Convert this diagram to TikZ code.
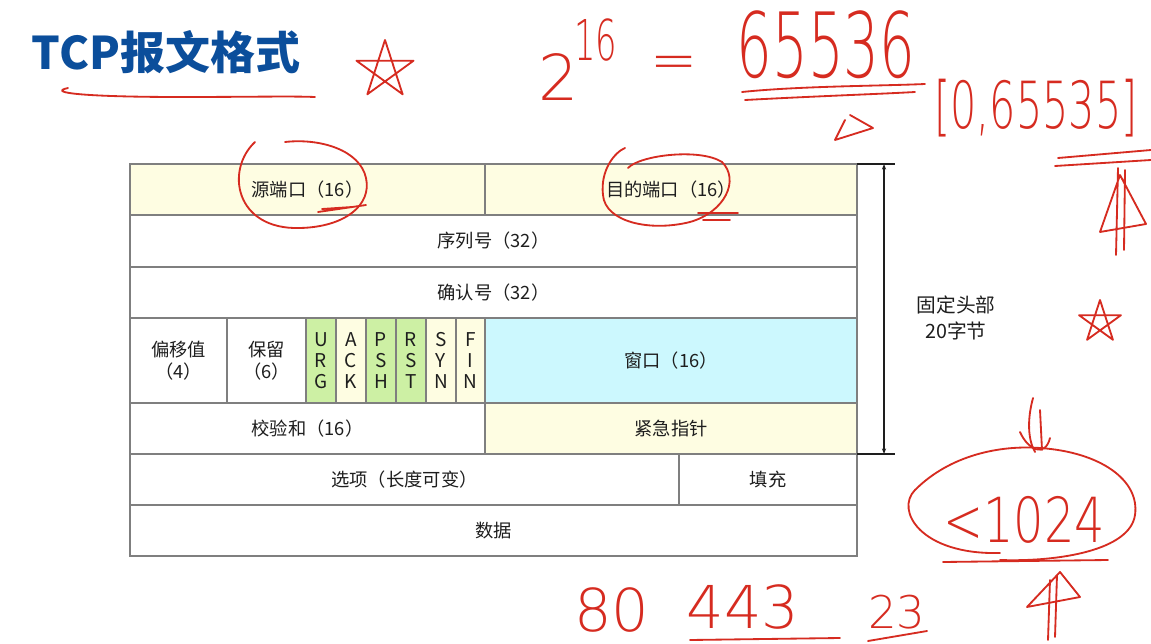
\documentclass[tikz,border=0pt]{standalone}
\usepackage{fontspec}
\usepackage{graphicx}
\setmainfont{Noto Sans CJK SC}
\newfontfamily\handfont{DejaVuSans-ExtraLight.ttf}
\usetikzlibrary{arrows.meta}
\definecolor{hdrblue}{HTML}{0B4E9B}
\definecolor{fldyellow}{HTML}{FEFDE2}
\definecolor{flggreen}{HTML}{CDF0A4}
\definecolor{wincyan}{HTML}{CCF8FE}
\definecolor{inkred}{HTML}{D62B20}
\definecolor{cellline}{HTML}{7F7F7F}
\definecolor{txt}{HTML}{1E1E1E}

\begin{document}
\begin{tikzpicture}[x=0.025cm,y=-0.025cm,
	cell/.style={draw=cellline, line width=1pt},
	lbl/.style={text=txt, font=\fontsize{13}{16}\selectfont, align=center, inner sep=0pt},
	flag/.style={text=txt, font=\fontsize{13.5}{15}\selectfont, align=center, inner sep=0pt},
	brace/.style={draw=txt, line width=0.8pt},
	ink/.style={draw=inkred, line width=1.3pt, line cap=round, line join=round},
	hand/.style={text=inkred, inner sep=0pt, font=\handfont\fontsize{#1}{#1}\selectfont}]
	\useasboundingbox[fill=white] (0,0) rectangle (1151,644);
	\node[font=\fontsize{32}{32}\selectfont\bfseries, text=hdrblue, inner sep=0pt] (title) at (166,52) {TCP报文格式};
	% header fields
	\draw[cell, fill=fldyellow] (130,164) rectangle node[lbl] (srcport) {源端口（16）} (485,215);
	\draw[cell, fill=fldyellow] (485,164) rectangle node[lbl] (dstport) {目的端口（16）} (857,215);
	\draw[cell, fill=white] (130,215) rectangle node[lbl] (seqnum) {序列号（32）} (857,267);
	\draw[cell, fill=white] (130,267) rectangle node[lbl] (acknum) {确认号（32）} (857,318);
	\draw[cell, fill=white] (130,318) rectangle node[lbl] (offset) {偏移值\\（4）} (227,403);
	\draw[cell, fill=white] (227,318) rectangle node[lbl] (rsvd) {保留\\（6）} (306,403);
	\foreach \xa/\xb/\lab/\nm/\col in {306/336/U\\R\\G/urg/flggreen, 336/366/A\\C\\K/ack/fldyellow,
		366/396/P\\S\\H/psh/flggreen, 396/426/R\\S\\T/rst/flggreen,
		426/456/S\\Y\\N/syn/fldyellow, 456/485/F\\I\\N/fin/fldyellow}
		\draw[cell, fill=\col] (\xa,318) rectangle node[flag] (\nm) {\lab} (\xb,403);
	\draw[cell, fill=wincyan] (485,318) rectangle node[lbl] (window) {窗口（16）} (857,403);
	\draw[cell, fill=white] (130,403) rectangle node[lbl] (chksum) {校验和（16）} (485,454);
	\draw[cell, fill=fldyellow] (485,403) rectangle node[lbl] (urgptr) {紧急指针} (857,454);
	\draw[cell, fill=white] (130,454) rectangle node[lbl] (options) {选项（长度可变）} (679,505);
	\draw[cell, fill=white] (679,454) rectangle node[lbl] (padding) {填充} (857,505);
	\draw[cell, fill=white] (130,505) rectangle node[lbl] (payload) {数据} (857,556);
	% fixed header span
	\coordinate (hdrtop) at (884,164);
	\coordinate (hdrbot) at (884,454);
	\draw[brace] (857,164) -- (895,164) (857,454) -- (895,454);
	\draw[brace, {Stealth[length=4pt,width=3pt]}-{Stealth[length=4pt,width=3pt]}] (hdrtop) -- (hdrbot);
	\node[lbl, font=\fontsize{14}{18}\selectfont] (fixedhdr) at (956,318) {固定头部\\20字节};
	% red ink notes
	\draw[ink] (68,88) .. controls (45,93) and (90,97) .. (180,97) .. controls (250,97) and (290,96) .. (315,97);
	\draw[ink] (385,70) +(-90:30) -- +(54:30) -- +(198:30) -- +(-18:30) -- +(126:30) -- cycle;
	\draw[ink] (1100,322) +(-90:22) -- +(54:22) -- +(198:22) -- +(-18:22) -- +(126:22) -- cycle;
	\draw[ink] (255,142) .. controls (225,170) and (235,230) .. (300,228) .. controls (345,227) and (372,205) .. (366,178) .. controls (360,150) and (320,138) .. (285,142);
	\draw[ink] (318,212) -- (366,205) (322,209) -- (352,207);
	\draw[ink] (628,168) .. controls (640,155) and (700,148) .. (722,162) .. controls (740,180) and (725,212) .. (690,222) .. controls (650,232) and (605,222) .. (603,195) .. controls (600,170) and (615,152) .. (625,148);
	\draw[ink] (698,213) -- (738,213) (703,220) -- (730,220);
	\node[hand=45] (two) at (559,77) {2};
	\node[hand=40] (sixteen) at (596,40) {\scalebox{0.6}[1]{16}};
	\node[hand=40] (equals) at (674,68) {=};
	\node[hand=40] (range) at (826,45) {\scalebox{1}[1.6]{65536}};
	\draw[ink] (742,92) .. controls (800,86) and (880,86) .. (925,84) (745,100) .. controls (820,96) and (880,94) .. (915,92);
	\draw[ink] (850,115) -- (873,128) -- (835,140) -- (845,120);
	\node[hand=42, anchor=west] (interval) at (934,108) {\scalebox{0.7}[1.1]{[0,65535]}};
	\draw[ink] (1058,158) -- (1151,150) (1055,166) -- (1151,160);
	\draw[ink] (1118,168) -- (1116,255) (1125,170) -- (1124,250) (1120,175) -- (1100,232) -- (1146,224) -- cycle;
	\draw[ink] (1000,553) .. controls (920,555) and (895,510) .. (915,490) .. controls (950,455) and (1000,445) .. (1040,448) .. controls (1100,452) and (1140,480) .. (1135,515) .. controls (1130,550) and (1060,562) .. (1000,560);
	\node[hand=34] (wellknown) at (1024,520) {\scalebox{1}[1.3]{<1024}};
	\draw[ink] (943,562) -- (1108,560);
	\draw[ink] (1033,398) .. controls (1027,420) and (1028,440) .. (1035,452) (1040,410) -- (1042,450) (1020,432) .. controls (1028,450) and (1045,458) .. (1050,438);
	\draw[ink] (1050,580) -- (1048,640) (1057,575) -- (1055,637) (1060,572) -- (1027,607) -- (1080,597) -- cycle;
	\node[hand=42] (http) at (612,610) {80};
	\node[hand=42] (https) at (743,607) {443};
	\node[hand=32] (telnet) at (897,612) {23};
	\draw[ink] (690,640) -- (840,638) (868,641) -- (927,631);
\end{tikzpicture}
\end{document}
